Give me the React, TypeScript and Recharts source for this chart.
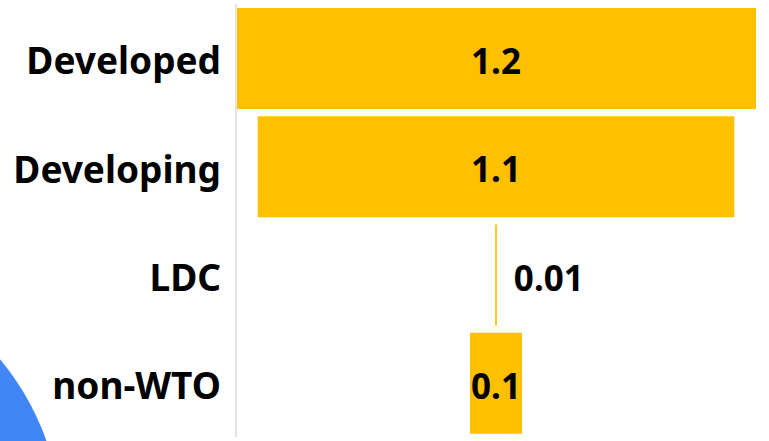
import { Bar, BarChart, LabelList, XAxis, YAxis } from "recharts";

// WTO member groups and their values
const groups = ["Developed", "Developing", "LDC", "non-WTO"];
const values = [1.2, 1.1, 0.004, 0.12];
const valueLabels = ["1.2", "1.1", "0.01", "0.1"];
const maxValue = 1.2;

// centred (funnel-style) bars: an invisible pad pushes each bar to the middle
const data = groups.map((g, i) => ({
  group: g,
  pad: (maxValue - values[i]) / 2,
  value: values[i],
  label: valueLabels[i],
}));

const FONT = "'Noto Sans', sans-serif";

const ValueLabel = (props: any) => {
  const { x, y, width, height, index } = props;
  const text = valueLabels[index];
  const narrow = width < 30;
  return (
    <text
      x={narrow ? x + width + 17 : x + width / 2}
      y={y + height / 2 + 2}
      textAnchor={narrow ? "start" : "middle"}
      dominantBaseline="central"
      fontFamily={FONT}
      fontWeight={700}
      fontSize={35}
      fill="#000"
    >
      {text}
    </text>
  );
};

export default function App() {
  return (
    <div
      style={{
        position: "relative",
        width: 769,
        height: 441,
        overflow: "hidden",
        background: "#fff",
      }}
    >
      <style>{`body{margin:0}`}</style>
      {/* decorative blue shape in the bottom-left corner */}
      <div
        style={{
          position: "absolute",
          left: -461,
          top: 266,
          width: 522,
          height: 522,
          borderRadius: "50%",
          background: "#4285f4",
        }}
      />
      <BarChart
        width={769}
        height={441}
        data={data}
        layout="vertical"
        margin={{ top: 4, right: 13, bottom: 4, left: 0 }}
        style={{ position: "relative" }}
      >
        <XAxis type="number" hide domain={[0, maxValue]} />
        <YAxis
          type="category"
          dataKey="group"
          width={236}
          axisLine={{ stroke: "#e3e3e3", strokeWidth: 2 }}
          tickLine={false}
          tickMargin={9}
          tick={{ fill: "#000", fontFamily: FONT, fontWeight: 700, fontSize: 37, dy: 3 }}
        />
        <Bar dataKey="pad" stackId="a" fill="transparent" barSize={101} isAnimationActive={false} />
        <Bar dataKey="value" stackId="a" fill="#ffc000" barSize={101} isAnimationActive={false}>
          <LabelList dataKey="label" content={ValueLabel} />
        </Bar>
      </BarChart>
    </div>
  );
}
